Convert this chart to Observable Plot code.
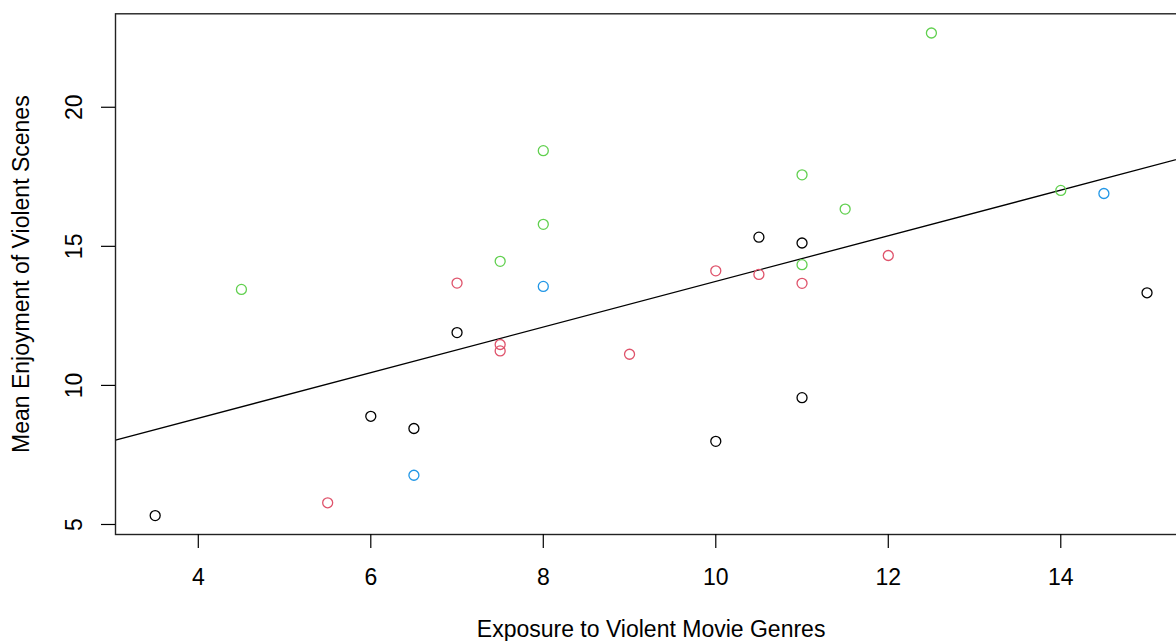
<!DOCTYPE html>
<html>
<head>
<meta charset="utf-8">
<script src="https://cdn.jsdelivr.net/npm/d3@7"></script>
<script src="https://cdn.jsdelivr.net/npm/@observablehq/plot@0.6"></script>
<style>
  html, body { margin: 0; padding: 0; background: #fff; overflow: hidden; width: 1176px; height: 641px; }
  #chart { width: 1176px; height: 641px; overflow: hidden; }
  #chart svg { display: block; max-width: none !important; width: 1200px; height: 641px; }
</style>
</head>
<body>
<div id="chart"></div>
<script>
// Data (four groups, R default palette)
const groupNames = ["A", "B", "C", "D"];
const groupColors = ["#000000", "#DF536B", "#61D04F", "#2297E6"];

const exposureA = [3.5, 6, 6.5, 7, 10, 10.5, 11, 11, 15];
const enjoymentA = [5.32, 8.89, 8.45, 11.90, 7.99, 15.33, 15.12, 9.56, 13.33];

const exposureB = [5.5, 7, 7.5, 7.5, 9, 10, 10.5, 11, 12];
const enjoymentB = [5.78, 13.68, 11.47, 11.24, 11.12, 14.12, 13.99, 13.67, 14.67];

const exposureC = [4.5, 7.5, 8, 8, 11, 11, 11.5, 12.5, 14];
const enjoymentC = [13.45, 14.46, 18.44, 15.79, 17.57, 14.34, 16.34, 22.67, 17.01];

const exposureD = [6.5, 8, 14.5];
const enjoymentD = [6.77, 13.56, 16.90];

// Fitted line (abline)
const lineIntercept = 5.54;
const lineSlope = 0.82;

const xTicks = [4, 6, 8, 10, 12, 14];
const yTicks = [5, 10, 15, 20];
const xDomain = [3.04, 15.46];
const yDomain = [4.64, 23.36];

const xTitle = "Exposure to Violent Movie Genres";
const yTitle = "Mean Enjoyment of Violent Scenes";

// Build table
const series = [
  [exposureA, enjoymentA],
  [exposureB, enjoymentB],
  [exposureC, enjoymentC],
  [exposureD, enjoymentD]
];
const points = [];
series.forEach(([xs, ys], gi) => {
  xs.forEach((x, i) => points.push({x, y: ys[i], group: groupNames[gi]}));
});
const fitLine = xDomain.map(x => ({x, y: lineIntercept + lineSlope * x}));

const FS = 23;
const chart = Plot.plot({
  width: 1200,
  height: 641,
  marginLeft: 115,
  marginRight: 13.8,
  marginTop: 13.3,
  marginBottom: 107,
  style: {fontFamily: "'Liberation Sans', Arial, Helvetica, sans-serif", fontSize: FS + "px", color: "black", background: "white", maxWidth: "none"},
  x: {domain: xDomain},
  y: {domain: yDomain},
  color: {domain: groupNames, range: groupColors},
  marks: [
    Plot.line(fitLine, {x: "x", y: "y", stroke: "black", strokeWidth: 1.3, clip: true}),
    Plot.dot(points, {x: "x", y: "y", stroke: "group", fill: "none", r: 5, strokeWidth: 1.3}),
    Plot.frame({stroke: "#222", strokeWidth: 1.4}),
    Plot.axisX({ticks: xTicks, tickSize: 14, tickPadding: 20, fontSize: FS, label: null, tickFormat: d => String(d), strokeWidth: 1.2}),
    Plot.axisY({ticks: yTicks, tickSize: 14, tickPadding: 36, tickRotate: -90, textAnchor: "middle", lineAnchor: "top", fontSize: FS, label: null, tickFormat: d => String(d), strokeWidth: 1.2}),
    Plot.text([xTitle], {text: d => d, frameAnchor: "bottom", dy: 86, lineAnchor: "top", textAnchor: "middle", fontSize: FS, fill: "black"}),
    Plot.text([yTitle], {text: d => d, frameAnchor: "left", dx: -103.3, rotate: -90, lineAnchor: "top", textAnchor: "middle", fontSize: FS, fill: "black"})
  ]
});
document.getElementById("chart").appendChild(chart);
</script>
</body>
</html>
